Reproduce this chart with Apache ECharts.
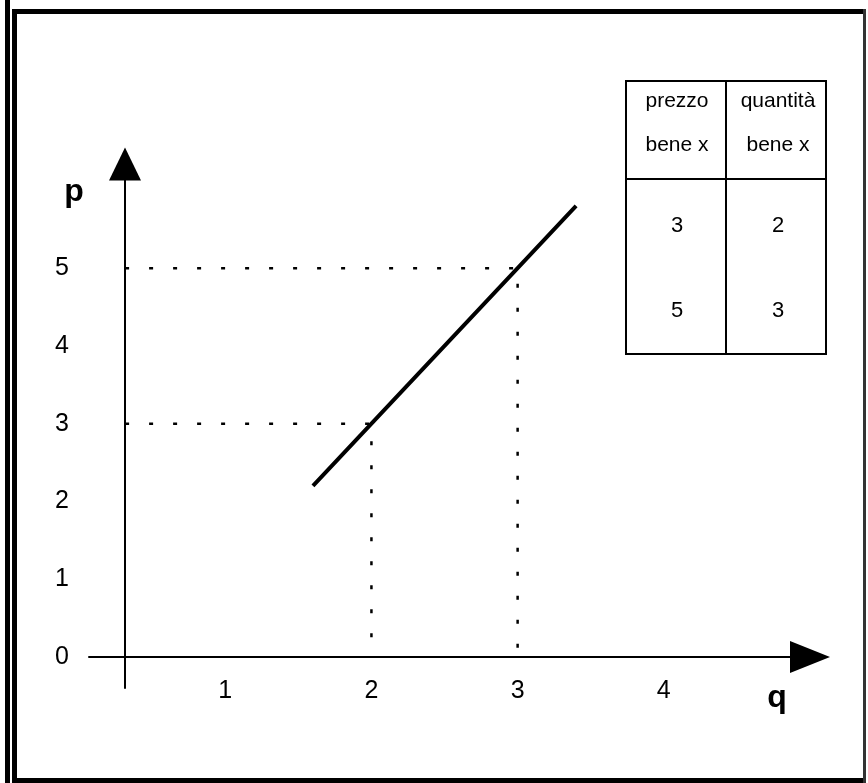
<!DOCTYPE html>
<html>
<head>
<meta charset="utf-8">
<script src="https://cdn.jsdelivr.net/npm/echarts@6/dist/echarts.min.js"></script>
<style>
html, body { margin: 0; padding: 0; background: #fff; }
#main { width: 868px; height: 783px; }
</style>
</head>
<body>
<div id="main"></div>
<script>
// curva di offerta (q, p)
var offerta = [[1.6, 2.2], [2, 3], [3, 5], [3.4, 5.8]];
// etichette degli assi
var ticksQ = [1, 2, 3, 4];
var ticksP = [0, 1, 2, 3, 4, 5];
// tabella
var intestazione = [['prezzo', 'bene x'], ['quantità', 'bene x']];
var prezzi = [3, 5];
var quantita = [2, 3];
// posizione dell'asse p sull'asse q
var qAsseP = 0.315;

(function () {
    var myChart = echarts.init(document.getElementById('main'));
    var font = 'Liberation Sans, Arial, sans-serif';

    // linee tratteggiate di riferimento
    var guide = prezzi.map(function (p, i) {
        return {
            type: 'line',
            data: [[qAsseP, p], [quantita[i], p], [quantita[i], 0]],
            showSymbol: false,
            silent: true,
            z: 1,
            lineStyle: { color: '#000', width: 2.5, type: [4, 20] }
        };
    });

    // tabella come grafica
    var tab = [];
    var tx = 626, ty = 81, tw = 200, th = 273, cx = 726, hy = 179;
    tab.push({ type: 'rect', shape: { x: tx, y: ty, width: tw, height: th }, style: { fill: null, stroke: '#000', lineWidth: 2 } });
    tab.push({ type: 'line', shape: { x1: cx, y1: ty, x2: cx, y2: ty + th }, style: { stroke: '#000', lineWidth: 2 } });
    tab.push({ type: 'line', shape: { x1: tx, y1: hy, x2: tx + tw, y2: hy }, style: { stroke: '#000', lineWidth: 2 } });
    var colX = [677, 778];
    intestazione.forEach(function (righe, c) {
        righe.forEach(function (t, r) {
            tab.push({ type: 'text', x: colX[c], y: 101 + r * 44, style: { text: t, fill: '#000', font: '21px ' + font, align: 'center', verticalAlign: 'middle' } });
        });
    });
    prezzi.forEach(function (p, i) {
        tab.push({ type: 'text', x: colX[0], y: 226 + i * 85, style: { text: String(p), fill: '#000', font: '22px ' + font, align: 'center', verticalAlign: 'middle' } });
        tab.push({ type: 'text', x: colX[1], y: 226 + i * 85, style: { text: String(quantita[i]), fill: '#000', font: '22px ' + font, align: 'center', verticalAlign: 'middle' } });
    });

    // cornice
    var cornice = [
        { type: 'rect', shape: { x: 5, y: 0, width: 5, height: 783 }, style: { fill: '#000' } },
        { type: 'rect', shape: { x: 12, y: 9, width: 854, height: 5 }, style: { fill: '#000' } },
        { type: 'rect', shape: { x: 12, y: 778, width: 854, height: 5 }, style: { fill: '#000' } },
        { type: 'rect', shape: { x: 12, y: 9, width: 5, height: 774 }, style: { fill: '#000' } },
        { type: 'rect', shape: { x: 863, y: 9, width: 3, height: 774 }, style: { fill: '#333' } }
    ];

    var option = {
        backgroundColor: '#fff',
        animation: false,
        grid: { left: 89, right: 58, top: 164, bottom: 95 },
        xAxis: {
            type: 'value',
            min: 0.068,
            max: 5.0,
            splitLine: { show: false },
            axisTick: { show: false },
            axisLine: {
                onZero: true,
                symbol: ['none', 'triangle'],
                symbolSize: [32, 40],
                lineStyle: { color: '#000', width: 2 }
            },
            axisLabel: { customValues: ticksQ, color: '#000', fontSize: 25, fontFamily: font, margin: -9 }
        },
        yAxis: {
            type: 'value',
            min: -0.4,
            max: 6.34,
            offset: -36,
            splitLine: { show: false },
            axisTick: { show: false },
            axisLine: {
                show: true,
                onZero: false,
                symbol: ['none', 'triangle'],
                symbolSize: [32, 33],
                lineStyle: { color: '#000', width: 2 }
            },
            axisLabel: { customValues: ticksP, color: '#000', fontSize: 25, fontFamily: font, margin: 56 }
        },
        graphic: cornice.concat(tab).concat([
            { type: 'text', x: 74, y: 192, style: { text: 'p', fill: '#000', font: 'bold 32px ' + font, align: 'center', verticalAlign: 'middle' } },
            { type: 'text', x: 777, y: 698, style: { text: 'q', fill: '#000', font: 'bold 32px ' + font, align: 'center', verticalAlign: 'middle' } }
        ]),
        series: guide.concat([{
            type: 'line',
            data: offerta,
            showSymbol: false,
            silent: true,
            z: 3,
            lineStyle: { color: '#000', width: 4 }
        }])
    };

    myChart.setOption(option);
})();
</script>
</body>
</html>
